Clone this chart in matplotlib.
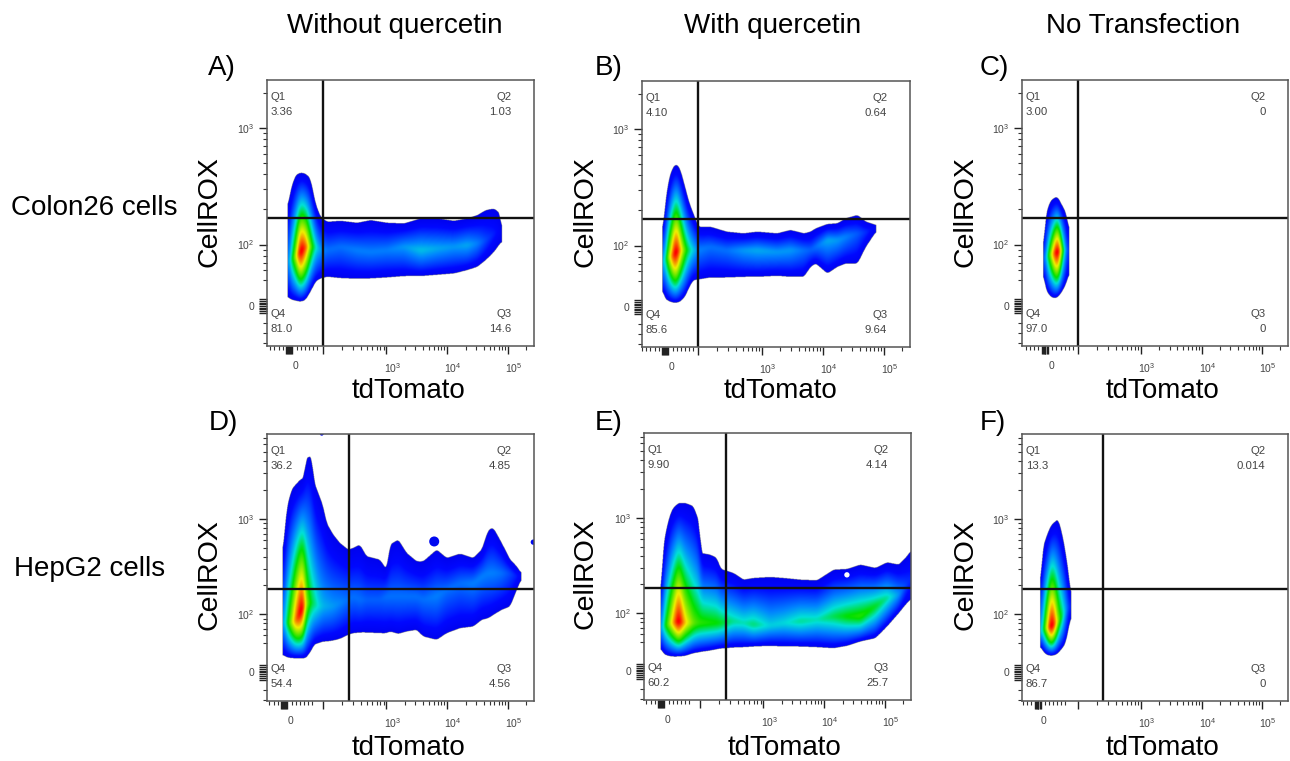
import numpy as np
import matplotlib
matplotlib.use("Agg")
import matplotlib.pyplot as plt
from matplotlib.colors import LinearSegmentedColormap
from matplotlib.patches import Circle
from matplotlib.transforms import ScaledTranslation

plt.rcParams["font.family"] = ["Liberation Sans", "DejaVu Sans"]
plt.rcParams["mathtext.default"] = "regular"
plt.rcParams["mathtext.fontset"] = "custom"
plt.rcParams["mathtext.rm"] = "Liberation Sans"

W, H = 1290, 761

# outline, one row per x station:
# x, top of cloud, bottom of cloud, height of densest point, density there
cloud_a = [(292,470,740,640,.15),(300,420,748,630,.35),(315,375,752,620,.6),(330,367,755,605,1.0),
           (345,370,750,590,.85),(360,385,725,590,.55),(375,460,695,590,.35),(390,500,685,600,.25),
           (410,515,680,600,.2),(450,512,684,590,.2),(500,518,686,600,.22),(540,510,685,605,.22),
           (590,518,682,600,.22),(640,520,678,590,.25),(690,505,678,600,.3),(740,505,674,595,.27),
           (790,512,670,590,.25),(830,505,660,585,.27),(860,495,650,580,.22),(885,480,630,570,.15),
           (910,475,605,550,.1),(928,490,580,540,.06),(933,540,575,555,.03)]
cloud_b = [(278,545,720,640,.2),(285,470,745,630,.35),(295,395,752,620,.55),(307,355,757,620,.8),
           (318,342,758,605,1.0),(330,355,755,600,.75),(345,410,740,600,.5),(358,460,710,600,.38),
           (370,490,690,600,.3),(385,530,688,600,.22),(420,530,682,590,.2),(470,545,682,600,.2),
           (520,550,680,600,.25),(560,545,680,600,.27),(620,550,677,605,.25),(660,540,680,600,.25),
           (700,550,680,600,.2),(720,545,650,600,.18),(735,535,640,590,.2),(770,522,670,570,.27),
           (800,520,650,570,.25),(825,505,640,560,.22),(860,495,640,550,.17),(885,515,590,545,.12),
           (915,525,545,532,.05)]
cloud_c = [(279,600,670,630,.05),(285,500,715,620,.25),(298,455,738,615,.5),(312,442,745,610,.8),
           (322,440,742,605,1.0),(335,465,725,600,.5),(348,490,700,600,.2),(356,540,670,600,.05)]
cloud_d = [(279,430,735,640,.2),(290,300,742,640,.4),(305,240,745,640,.6),(320,222,745,630,.85),
           (335,207,745,600,1.0),(343,205,745,590,.85),(348,145,745,580,.6),(366,140,720,580,.42),
           (372,215,705,580,.4),(385,250,700,590,.33),(400,290,695,590,.28),(410,340,695,590,.27),
           (430,375,692,590,.25),(450,400,687,580,.23),(475,420,675,570,.2),(490,415,670,560,.2),
           (510,405,668,570,.2),(530,440,668,570,.18),(570,450,670,570,.18),(590,480,670,560,.2),
           (600,405,665,560,.2),(625,390,672,560,.2),(650,430,665,560,.2),(680,455,660,560,.2),
           (700,455,680,570,.2),(740,420,690,560,.22),(770,445,670,540,.2),(810,432,655,520,.2),
           (850,445,650,520,.22),(875,420,630,500,.22),(895,360,625,490,.22),(910,355,615,490,.22),
           (935,400,600,490,.2),(960,450,590,490,.15),(980,470,540,500,.1),(993,490,510,495,.05)]
cloud_e = [(272,560,715,660,.15),(278,420,730,650,.35),(290,350,737,645,.5),(305,300,740,640,.7),
           (325,280,740,635,1.0),(345,280,738,640,.72),(370,290,730,640,.55),(388,340,727,640,.5),
           (392,430,726,640,.5),(420,435,722,640,.48),(440,445,718,640,.47),(452,478,716,640,.45),
           (490,490,713,635,.38),(520,510,712,640,.36),(550,505,710,645,.4),(600,502,708,648,.32),
           (640,505,710,640,.33),(690,510,710,635,.38),(740,512,712,630,.36),(790,480,715,620,.42),
           (830,478,708,620,.47),(870,465,695,620,.5),(915,475,685,590,.45),(950,458,650,565,.38),
           (985,465,610,555,.25),(1005,445,585,530,.15),(1024,420,565,500,.1)]
cloud_f = [(272,530,710,670,.2),(278,420,722,660,.35),(290,380,735,655,.6),(305,345,738,650,1.0),
           (318,335,735,640,.75),(325,327,730,635,.55),(338,375,715,620,.4),(348,430,700,600,.25),
           (358,500,650,590,.12),(364,560,620,590,.05)]

# lone specks: x, y, radius
specks_d = [(733,395,15),(1030,397,8),(396,72,6)]
holes_e = [(830,495,8)]

clouds = [cloud_a, cloud_b, cloud_c, cloud_d, cloud_e, cloud_f]
specks = [[], [], [], specks_d, [], []]
holes = [[], [], [], [], holes_e, []]

letters = ["A)", "B)", "C)", "D)", "E)", "F)"]
q1 = ["3.36", "4.10", "3.00", "36.2", "9.90", "13.3"]
q2 = ["1.03", "0.64", "0", "4.85", "4.14", "0.014"]
q3 = ["14.6", "9.64", "0", "4.56", "25.7", "0"]
q4 = ["81.0", "85.6", "97.0", "54.4", "60.2", "86.7"]
col_titles = ["Without quercetin", "With quercetin", "No Transfection"]
row_titles = ["Colon26 cells", "HepG2 cells"]

# frames in pixels: left, right, top, bottom
frames = [(267, 534, 80, 346), (642, 910, 81, 347), (1022, 1288, 80, 346),
          (267, 534, 434, 701), (644, 911, 433, 700), (1022, 1288, 434, 701)]
# the crops the clouds were read from: left and bottom of frame
origins = [(230, 888), (217, 890), (215, 888), (232, 873), (222, 870), (217, 873)]
gate_x = [167, 167, 167, 245, 246, 245]
gate_y = [385, 384, 386, 335, 335, 337]
zero_x = [68, 71, 70, 53, 53, 48]
zero_y = [120, 120, 120, 86, 86, 86]
y_decades = [(305, 656), (305, 656), (305, 656), (260, 546), (260, 546), (260, 546)]
x_decades = [167, 358, 540, 722]

letter_pos = [(208, 68), (595, 68), (980, 68), (209, 423), (595, 423), (980, 423)]
ylabel_pos = [(209, 212), (586, 212), (965, 212), (209, 575), (586, 574), (965, 575)]
xlabel_pos = [(408, 391), (780, 391), (1163, 391), (408, 748), (785, 748), (1163, 748)]

flow = LinearSegmentedColormap.from_list("flow", [(0, "#0000e8"), (.12, "#0008ff"), (.3, "#0084ff"),
                                                   (.42, "#00e0d8"), (.55, "#00e000"), (.77, "#f0f000"),
                                                   (1, "#ff0000")])


def smooth(a, n):
    pad = np.pad(a, n, mode="edge")
    return np.convolve(pad, np.ones(2 * n + 1) / (2 * n + 1), mode="same")[n:-n]


def blur(a, n):
    kernel = np.ones(2 * n + 1) / (2 * n + 1)
    a = np.apply_along_axis(lambda v: np.convolve(v, kernel, mode="same"), 0, a)
    return np.apply_along_axis(lambda v: np.convolve(v, kernel, mode="same"), 1, a)


def density(rows, left, bottom):
    r = np.array(rows, dtype=float).T
    x, top, low, peak, level = r[0] - left, bottom - r[1], bottom - r[2], bottom - r[3], r[4]
    gx = np.arange(0, 800, 1.0)
    gy = np.arange(0, 800, 1.0)
    inside = (gx >= x[0]) & (gx <= x[-1])
    t_top = smooth(np.interp(gx, x, top), 6)
    t_low = smooth(np.interp(gx, x, low), 6)
    t_peak = smooth(np.interp(gx, x, peak), 6)
    t_level = smooth(np.interp(gx, x, level), 4) ** .85
    img = np.full((800, 800), np.nan)
    for i in np.where(inside)[0]:
        up = (gy - t_peak[i]) / max(t_top[i] - t_peak[i], 1)
        dn = (t_peak[i] - gy) / max(t_peak[i] - t_low[i], 1)
        d = np.where(gy >= t_peak[i], up, dn)
        fall = np.where(gy >= t_peak[i], 1.05, .8)
        keep = d <= 1
        img[keep, i] = .03 + (t_level[i] - .03) * (1 - d[keep]) ** fall[keep]
    # round off the corners of the stations, the outline stays where it was read
    mask = ~np.isnan(img)
    soft = blur(np.where(mask, img, 0), 6) / np.maximum(blur(mask.astype(float), 6), 1e-6)
    soft = blur(np.where(mask, soft, 0), 3) / np.maximum(blur(mask.astype(float), 3), 1e-6)
    soft[~mask] = np.nan
    return soft / np.nanmax(soft)


def style_axis(ax, i):
    d2, d3 = y_decades[i]
    dec = d3 - d2
    # x axis
    xminor = [zero_x[i] + s * k for s in (-1, 1) for k in (21, 33, 46, 58, 70, 82) if 0 < zero_x[i] + s * k < x_decades[0]]
    for a, b in zip(x_decades, [191, 182, 182, 182]):
        xminor += [a + np.log10(k) * b for k in range(2, 10) if a + np.log10(k) * b < 800]
    xblock = [zero_x[i] + k for k in range(-10, 11, 3) if k != 2]
    ax.set_xticks([zero_x[i]] + x_decades + xblock)
    ax.set_xticklabels(["0", "", "$10^{3}$", "$10^{4}$", "$10^{5}$"] + [""] * len(xblock))
    ax.set_xticks(xminor, minor=True)
    # y axis
    yminor = [d2 + np.log10(k / 10) * dec for k in (5, 6, 7, 8, 9)]
    yminor += [d2 + np.log10(k) * dec for k in range(2, 10)]
    yminor += [d3 + np.log10(k) * dec for k in range(2, 10) if d3 + np.log10(k) * dec < 798]
    yminor += [zero_y[i] - 52, zero_y[i] - 82, zero_y[i] - 110]
    yblock = [zero_y[i] + k for k in (-22, -16, -10, -5, 5, 10, 16, 22)]
    ax.set_yticks([zero_y[i], d2, d3] + yblock)
    ax.set_yticklabels(["0", "$10^{2}$", "$10^{3}$"] + [""] * len(yblock))
    ax.set_yticks([v for v in yminor if 0 < v < 800], minor=True)
    ax.tick_params(which="major", length=6, width=1, labelsize=7.5, labelcolor="#444444", color="#222222", pad=3)
    ax.tick_params(which="minor", length=3, width=.8, color="#333333")
    ax.tick_params(axis="x", which="major", pad=5)
    shift = ScaledTranslation(6 / 100, 0, ax.figure.dpi_scale_trans)
    for lab in ax.get_xticklabels():
        lab.set_transform(lab.get_transform() + shift)
    for sp in ax.spines.values():
        sp.set_color("#555555")
        sp.set_linewidth(1.1)


fig = plt.figure(figsize=(W / 100, H / 100), dpi=100)


def px(x, y):
    return x / W, 1 - y / H


for i in range(6):
    l, r, t, b = frames[i]
    ax = fig.add_axes([l / W, 1 - b / H, (r - l) / W, (b - t) / H])
    img = density(clouds[i], origins[i][0], origins[i][1])
    ax.imshow(img, origin="lower", extent=(0, 800, 0, 800), cmap=flow, vmin=0, vmax=1,
              aspect="auto", interpolation="bilinear")
    for sx, sy, sr in specks[i]:
        ax.add_patch(Circle((sx - origins[i][0], origins[i][1] - sy), sr, color="#0008f0", lw=0))
    for sx, sy, sr in holes[i]:
        ax.add_patch(Circle((sx - origins[i][0], origins[i][1] - sy), sr, color="white", lw=0))
    ax.axvline(gate_x[i], color="#111111", lw=1.7)
    ax.axhline(gate_y[i], color="#111111", lw=1.7)
    ax.set_xlim(0, 800)
    ax.set_ylim(0, 800)
    style_axis(ax, i)

    small = dict(fontsize=8.2, color="#444444", va="center")
    ax.text(11, 750, "Q1", ha="left", **small)
    ax.text(11, 703, q1[i], ha="left", **small)
    ax.text(732, 750, "Q2", ha="right", **small)
    ax.text(732, 703, q2[i], ha="right", **small)
    ax.text(11, 97, "Q4", ha="left", **small)
    ax.text(11, 50, q4[i], ha="left", **small)
    ax.text(732, 97, "Q3", ha="right", **small)
    ax.text(732, 50, q3[i], ha="right", **small)

    fig.text(*px(*letter_pos[i]), letters[i], fontsize=20, ha="left", va="center")
    fig.text(*px(*ylabel_pos[i]), "CellROX", fontsize=20.5, rotation=90, ha="center", va="center")
    fig.text(*px(*xlabel_pos[i]), "tdTomato", fontsize=20, ha="center", va="center")

for name, x in zip(col_titles, [395, 773, 1143]):
    fig.text(*px(x, 26), name, fontsize=20, ha="center", va="center")
for name, y, x in zip(row_titles, [208, 569], [11, 14]):
    fig.text(*px(x, y), name, fontsize=20, ha="left", va="center")

fig.savefig("out.png", dpi=100)
